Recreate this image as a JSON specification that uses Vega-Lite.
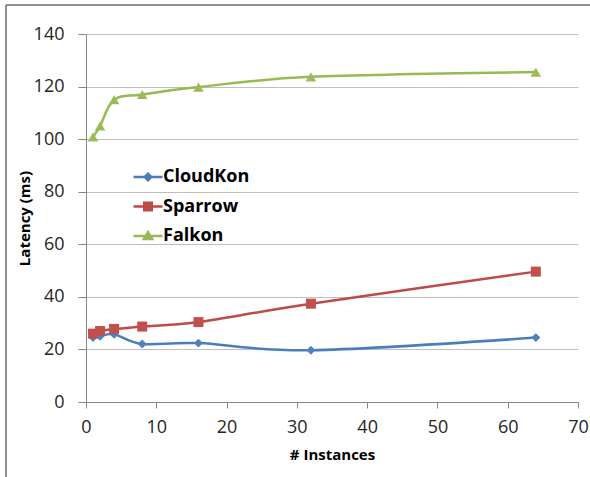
{
  "$schema": "https://vega.github.io/schema/vega-lite/v6.json",
  "width": 492,
  "height": 368,
  "autosize": "none",
  "padding": {"left": 86, "top": 34, "right": 12, "bottom": 75},
  "background": "white",
  "config": {
    "view": {"stroke": null},
    "font": "Open Sans"
  },
  "datasets": {
    "latency": [
      {"series": "CloudKon", "instances": 1, "latency": 24.5},
      {"series": "CloudKon", "instances": 2, "latency": 25},
      {"series": "CloudKon", "instances": 4, "latency": 25.8},
      {"series": "CloudKon", "instances": 8, "latency": 22.1},
      {"series": "CloudKon", "instances": 16, "latency": 22.4},
      {"series": "CloudKon", "instances": 32, "latency": 19.7},
      {"series": "CloudKon", "instances": 64, "latency": 24.5},
      {"series": "Sparrow", "instances": 1, "latency": 26},
      {"series": "Sparrow", "instances": 2, "latency": 27},
      {"series": "Sparrow", "instances": 4, "latency": 27.8},
      {"series": "Sparrow", "instances": 8, "latency": 28.7},
      {"series": "Sparrow", "instances": 16, "latency": 30.4},
      {"series": "Sparrow", "instances": 32, "latency": 37.4},
      {"series": "Sparrow", "instances": 64, "latency": 49.6},
      {"series": "Falkon", "instances": 1, "latency": 100.8},
      {"series": "Falkon", "instances": 2, "latency": 105},
      {"series": "Falkon", "instances": 4, "latency": 115},
      {"series": "Falkon", "instances": 8, "latency": 117},
      {"series": "Falkon", "instances": 16, "latency": 119.8},
      {"series": "Falkon", "instances": 32, "latency": 123.7},
      {"series": "Falkon", "instances": 64, "latency": 125.5}
    ]
  },
  "data": {"name": "latency"},
  "encoding": {
    "x": {
      "field": "instances",
      "type": "quantitative",
      "scale": {"domain": [0, 70], "nice": false},
      "title": "# Instances",
      "axis": {
        "values": [0, 10, 20, 30, 40, 50, 60, 70],
        "grid": false,
        "labelFlush": false,
        "domainColor": "#868686",
        "tickColor": "#868686",
        "tickSize": 6,
        "labelFontSize": 18,
        "labelColor": "#262626",
        "labelPadding": 10,
        "titleFontSize": 15,
        "titleFontWeight": "bold",
        "titleColor": "#000000",
        "titlePadding": 11
      }
    },
    "y": {
      "field": "latency",
      "type": "quantitative",
      "scale": {"domain": [0, 140], "nice": false},
      "title": "Latency (ms)",
      "axis": {
        "values": [0, 20, 40, 60, 80, 100, 120, 140],
        "grid": true,
        "labelFlush": false,
        "gridColor": "#bfbfbf",
        "gridWidth": 1,
        "domainColor": "#868686",
        "tickColor": "#868686",
        "tickSize": 8,
        "labelFontSize": 18,
        "labelColor": "#262626",
        "labelPadding": 14,
        "titleFontSize": 15,
        "titleFontWeight": "bold",
        "titleColor": "#000000",
        "titlePadding": 1
      }
    }
  },
  "layer": [
    {
      "mark": {"type": "rule", "clip": false, "color": "#8e8e8e", "strokeWidth": 1},
      "encoding": {
        "x": {"datum": -11.382, "type": "quantitative"},
        "x2": {"datum": 72},
        "y": {"datum": 151.03, "type": "quantitative"}
      }
    },
    {
      "mark": {"type": "rule", "clip": false, "color": "#8e8e8e", "strokeWidth": 1},
      "encoding": {
        "x": {"datum": -11.382, "type": "quantitative"},
        "y": {"datum": 151.03, "type": "quantitative"},
        "y2": {"datum": -29}
      }
    },
    {
      "mark": {"type": "line", "interpolate": "cardinal", "strokeWidth": 2.5},
      "encoding": {
        "stroke": {
          "field": "series",
          "type": "nominal",
          "scale": {"domain": ["CloudKon", "Sparrow", "Falkon"], "range": ["#4a7ebb", "#be4b48", "#98b954"]},
          "legend": {
            "title": null,
            "orient": "none",
            "legendX": 46,
            "legendY": 127,
            "padding": 0,
            "symbolType": "stroke",
            "symbolSize": 841,
            "symbolStrokeWidth": 2.5,
            "rowPadding": 4.5,
            "labelFont": "Open Sans",
            "labelFontWeight": "bold",
            "labelFontSize": 18,
            "labelColor": "#000000",
            "labelOffset": -1,
            "encode": {
              "symbols": {
                "update": {
                  "shape": {"signal": "datum.value === 'CloudKon' ? 'M-1,0H1M0,-0.23L0.23,0L0,0.23L-0.23,0Z' : datum.value === 'Sparrow' ? 'M-1,0H1M-0.26,-0.26H0.26V0.26H-0.26Z' : 'M-1,0H1M-0.29,0.21L0,-0.27L0.29,0.21Z'"},
                  "fill": {"scale": "stroke", "field": "value"},
                  "stroke": {"scale": "stroke", "field": "value"},
                  "strokeWidth": {"value": 2.5}
                }
              }
            }
          }
        }
      }
    },
    {
      "transform": [{"filter": "datum.series === 'CloudKon'"}],
      "mark": {"type": "point", "shape": "diamond", "filled": true, "color": "#4f81bd", "size": 80, "opacity": 1}
    },
    {
      "transform": [{"filter": "datum.series === 'Sparrow'"}],
      "mark": {"type": "point", "shape": "square", "filled": true, "color": "#c0504d", "size": 100, "opacity": 1}
    },
    {
      "transform": [{"filter": "datum.series === 'Falkon'"}],
      "mark": {"type": "point", "shape": "triangle-up", "filled": true, "color": "#9bbb59", "size": 110, "opacity": 1}
    }
  ]
}
